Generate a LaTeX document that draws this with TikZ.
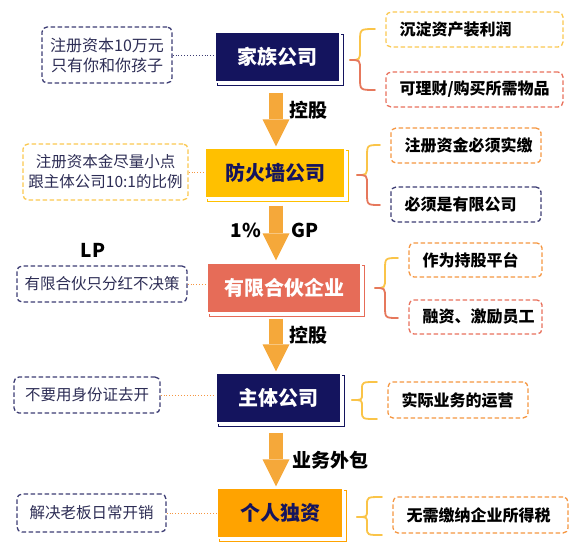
\documentclass[tikz,border=0pt]{standalone}
\usepackage{fontspec}
\setmainfont{Noto Sans CJK SC}
\usetikzlibrary{arrows.meta,calc,backgrounds}
\definecolor{navy}{RGB}{20,20,94}
\definecolor{fwyellow}{RGB}{255,192,0}
\definecolor{lpred}{RGB}{230,108,88}
\definecolor{soleorange}{RGB}{255,163,0}
\definecolor{arrowc}{RGB}{245,168,58}
\definecolor{dyellow}{RGB}{250,200,80}
\definecolor{dred}{RGB}{232,112,92}
\definecolor{dorange}{RGB}{245,150,65}
\definecolor{dnavy}{RGB}{60,60,115}
\definecolor{ltext}{RGB}{45,45,85}
\definecolor{byellow}{RGB}{250,196,72}
\definecolor{bred}{RGB}{230,120,92}
\newcommand\curlyb[7]{%
  \draw[brace,#6] (#2,#3) .. controls ({#1+10},#3) .. ({#1+10},{#3+0.4*(#4-#3)}) -- ({#1+10},{#4-0.33*(#4-#3)}) .. controls ({#1+10},#4) .. (#1,#4);
  \draw[brace,#7] (#1,#4) .. controls ({#1+10},#4) .. ({#1+10},{#4+0.33*(#5-#4)}) -- ({#1+10},{#5-0.4*(#5-#4)}) .. controls ({#1+10},#5) .. (#2,#5);
}
\newcommand\shadowof[2]{%
  \begin{scope}[on background layer]
    \draw[#2, line width=1.3pt] ($(#1.north west)+(3,3)$) rectangle ($(#1.south east)+(3,3)$);
  \end{scope}
}
\begin{document}
\begin{tikzpicture}[x=1pt,y=-1pt,
  mainbox/.style={minimum height=50pt, inner sep=0pt, font=\fontsize{20}{24}\selectfont\bfseries, draw=white, line width=1.2pt},
  leftbox/.style={rounded corners=5pt, draw, dash pattern=on 4.5pt off 2.5pt, line width=1.3pt, inner sep=0pt, align=center, font=\fontsize{15.5}{20}\selectfont, text=ltext},
  rightbox/.style={rounded corners=5pt, draw, dash pattern=on 4.5pt off 2.5pt, line width=1.3pt, inner ysep=0pt, inner xsep=13.5pt, align=left, font=\fontsize{16}{19}\selectfont\bfseries, text=black},
  bigarrow/.style={arrowc, line width=14pt, -{Triangle[width=27pt,length=27pt,line width=0pt]}},
  lab/.style={font=\fontsize{19}{22}\selectfont\bfseries, inner sep=0pt, text=black},
  link/.style={dotted, line width=0.9pt},
  brace/.style={line width=1.8pt, line cap=round}
]
\useasboundingbox (0,0) rectangle (583,557);

% main boxes
\node[mainbox, fill=navy, text=white, minimum width=125pt] (A) at (277.5,57) {家族公司};
\node[mainbox, fill=fwyellow, text=navy, minimum width=140pt] (B) at (275,173) {防火墙公司};
\node[mainbox, fill=lpred, text=white, minimum width=154pt] (C) at (284,288) {有限合伙企业};
\node[mainbox, fill=navy, text=white, minimum width=125pt] (D) at (278.5,398) {主体公司};
\node[mainbox, fill=soleorange, text=navy, minimum width=126pt] (E) at (280,513) {个人独资};
\shadowof{A}{navy}
\shadowof{B}{fwyellow}
\shadowof{C}{lpred}
\shadowof{D}{navy}
\shadowof{E}{soleorange}

% arrows
\coordinate (ax) at (276,0);
\draw[bigarrow, shorten <=10pt, shorten >=1pt] (A.south -| ax) -- (B.north -| ax);
\draw[bigarrow, shorten <=7pt, shorten >=2pt] (B.south -| ax) -- (C.north -| ax);
\draw[bigarrow, shorten <=5pt, shorten >=1pt] (C.south -| ax) -- (D.north -| ax);
\draw[bigarrow, shorten <=9pt, shorten >=1pt] (D.south -| ax) -- (E.north -| ax);

% arrow labels
\node[lab] (k1) at (308,110) {控股};
\node[lab] (p1) at (246,230) {1\%};
\node[lab] (g1) at (305,230) {GP};
\node[lab] (l1) at (93,250) {LP};
\node[lab] (k2) at (308,335) {控股};
\node[lab] (w1) at (330,460) {业务外包};

% left notes
\node[leftbox, draw=dnavy, minimum width=130pt, minimum height=56pt, font=\fontsize{16}{20}\selectfont] (L1) at (107,55) {注册资本10万元\\只有你和你孩子};
\node[leftbox, draw=dyellow, minimum width=165pt, minimum height=56pt] (L2) at (105.5,172) {注册资本金尽量小点\\跟主体公司10:1的比例};
\node[leftbox, draw=dnavy, minimum width=170pt, minimum height=36pt] (L3) at (102,284) {有限合伙只分红不决策};
\node[leftbox, draw=dnavy, minimum width=146pt, minimum height=36pt] (L4) at (87,395) {不要用身份证去开};
\node[leftbox, draw=dnavy, minimum width=149pt, minimum height=38pt] (L5) at (91.5,513) {解决老板日常开销};

\draw[link, dnavy] (L1.east) -- (L1.east -| A.west);
\draw[link, dorange] (L2.east) -- (L2.east -| B.west);
\draw[link, dorange] (L3.east) -- (L3.east -| C.west);
\draw[link, dorange] (L4.east) -- (L4.east -| D.west);
\draw[link, dorange] (L5.east) -- (L5.east -| E.west);

% right notes
\node[rightbox, draw=dyellow, text width=150pt, minimum height=35pt] (R1) at (474.5,29.5) {沉淀资产装利润};
\node[rightbox, draw=dred, text width=150pt, minimum height=35pt] (R2) at (474.5,89.5) {可理财/购买所需物品};
\node[rightbox, draw=dorange, text width=123pt, minimum height=35pt] (R3) at (466,145.5) {注册资金必须实缴};
\node[rightbox, draw=dnavy, text width=123pt, minimum height=35pt] (R4) at (466,204.5) {必须是有限公司};
\node[rightbox, draw=dorange, text width=106pt, minimum height=34pt] (R5) at (475.5,260) {作为持股平台};
\node[rightbox, draw=dred, text width=106pt, minimum height=34pt] (R6) at (475.5,317) {融资、激励员工};
\node[rightbox, draw=dorange, text width=113pt, minimum height=36pt] (R7) at (458,400) {实际业务的运营};
\node[rightbox, draw=dorange, text width=148pt, minimum height=36pt] (R8) at (480.5,515) {无需缴纳企业所得税};

% braces
\curlyb{350}{375}{29}{60}{90}{byellow}{bred}
\curlyb{357}{380}{145}{175}{205}{byellow}{bred}
\curlyb{375}{398}{258}{288}{318}{byellow}{bred}
\curlyb{352}{377}{382}{400}{419}{byellow}{byellow}
\curlyb{357}{382}{497}{517}{535}{byellow}{byellow}
\end{tikzpicture}
\end{document}
